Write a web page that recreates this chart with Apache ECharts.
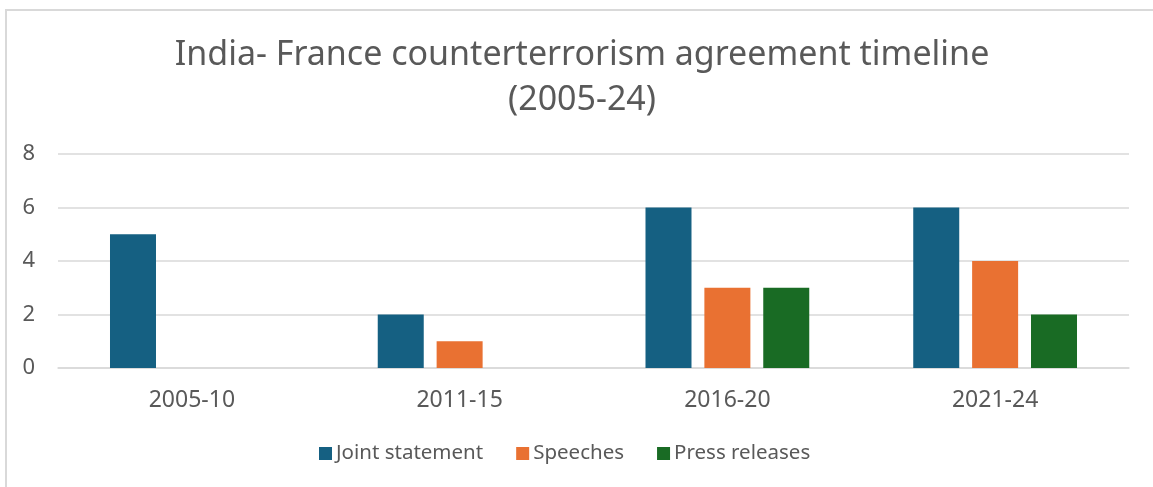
<!DOCTYPE html>
<html>
<head>
<meta charset="utf-8">
<title>India- France counterterrorism agreement timeline</title>
<script src="https://cdn.jsdelivr.net/npm/echarts@6/dist/echarts.min.js"></script>
<style>
  html, body { margin: 0; padding: 0; background: #ffffff; }
  #chart { width: 1153px; height: 487px; }
</style>
</head>
<body>
<div id="chart"></div>
<script>
// Periods on the category axis
const periods = ['2005-10', '2011-15', '2016-20', '2021-24'];

// Number of documents per period, by document type
const jointStatements = [5, 2, 6, 6];
const speeches = [0, 1, 3, 4];
const pressReleases = [0, 0, 3, 2];

// Value axis range and step
const yMin = 0;
const yMax = 8;
const yStep = 2;

const textColor = '#595959';
const gridColor = '#d9d9d9';
const fontFamily = '"Noto Sans", "Liberation Sans", Arial, sans-serif';

const chart = echarts.init(document.getElementById('chart'), null, { renderer: 'canvas' });

function barSeries(name, data, color) {
  return {
    name: name,
    type: 'bar',
    data: data,
    barWidth: 46,
    barGap: '28%',
    itemStyle: { color: color },
    emphasis: { disabled: true }
  };
}

chart.setOption({
  animation: false,
  backgroundColor: '#ffffff',
  title: {
    text: 'India- France counterterrorism agreement timeline\n(2005-24)',
    left: 582,
    top: 33,
    padding: 0,
    textAlign: 'center',
    textStyle: {
      color: textColor,
      fontFamily: fontFamily,
      fontSize: 34,
      fontWeight: 'normal',
      lineHeight: 45
    }
  },
  legend: {
    left: 319,
    top: 443,
    padding: 0,
    itemWidth: 13,
    itemHeight: 13,
    itemGap: 33,
    icon: 'rect',
    textStyle: { color: textColor, fontFamily: fontFamily, fontSize: 20.5, padding: [0, 0, 0, -1] },
    data: ['Joint statement', 'Speeches', 'Press releases']
  },
  grid: {
    left: 58,
    right: 24,
    top: 154,
    bottom: 119,
    containLabel: false
  },
  xAxis: {
    type: 'category',
    data: periods,
    axisTick: { show: false },
    axisLine: { show: true, lineStyle: { color: gridColor, width: 1.5 } },
    axisLabel: { color: textColor, fontFamily: fontFamily, fontSize: 23, margin: 21 }
  },
  yAxis: {
    type: 'value',
    min: yMin,
    max: yMax,
    interval: yStep,
    axisLine: { show: false },
    axisTick: { show: false },
    splitLine: { lineStyle: { color: gridColor, width: 1.5 } },
    axisLabel: { color: textColor, fontFamily: fontFamily, fontSize: 22, margin: 23 }
  },
  series: [
    barSeries('Joint statement', jointStatements, '#156082'),
    barSeries('Speeches', speeches, '#e97132'),
    barSeries('Press releases', pressReleases, '#196b24')
  ],
  graphic: [
    {
      type: 'polyline',
      silent: true,
      shape: { points: [[6, 487], [6, 10], [1153, 10]] },
      style: { stroke: gridColor, lineWidth: 2, fill: null }
    }
  ]
});
</script>
</body>
</html>
